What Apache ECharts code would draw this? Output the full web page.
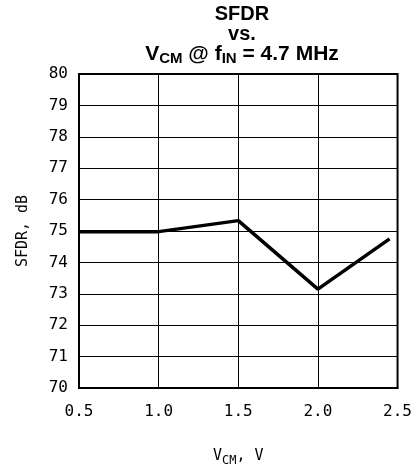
<!DOCTYPE html>
<html>
<head>
<meta charset="utf-8">
<script src="https://cdn.jsdelivr.net/npm/echarts@6/dist/echarts.min.js"></script>
<style>
  html, body { margin: 0; padding: 0; background: #fff; overflow: hidden; }
  #main { width: 415px; height: 472px; }
</style>
</head>
<body>
<div id="main"></div>
<script>
// values
var vcm = [0.5, 1.0, 1.5, 2.0, 2.45];
var sfdr = [74.98, 74.98, 75.33, 73.15, 74.75];

var chart = echarts.init(document.getElementById('main'));

var monoFont = 'DejaVu Sans Mono';

var option = {
  backgroundColor: '#fff',
  animation: false,
  title: {
    text: 'SFDR\nvs.\n{b|V}{s|CM}{b| @ f}{s|IN}{b| = 4.7 MHz}',
    left: 237,
    textAlign: 'center',
    top: -1,
    textStyle: {
      fontFamily: 'Liberation Sans',
      fontWeight: 'bold',
      fontSize: 20,
      lineHeight: 20,
      color: '#000',
      rich: {
        b: { fontFamily: 'Liberation Sans', fontWeight: 'bold', fontSize: 21, color: '#000', lineHeight: 20 },
        s: { fontFamily: 'Liberation Sans', fontWeight: 'bold', fontSize: 15, color: '#000', lineHeight: 20, padding: [9, 0, 0, 0] }
      }
    }
  },
  grid: {
    left: 79,
    right: 13,
    top: 74,
    bottom: 75,
    show: true,
    borderColor: '#000',
    borderWidth: 2,
    containLabel: false
  },
  xAxis: {
    type: 'value',
    min: 0.5,
    max: 2.5,
    interval: 0.5,
    name: '{n|V}{s|CM}{n|, V}',
    nameLocation: 'middle',
    nameGap: 58,
    nameTextStyle: {
      rich: {
        n: { fontFamily: monoFont, fontSize: 15, color: '#000' },
        s: { fontFamily: monoFont, fontSize: 12, color: '#000', padding: [9, 0, 0, 0] }
      }
    },
    axisLine: { show: true, lineStyle: { color: '#000', width: 2 } },
    axisTick: { show: false },
    axisLabel: {
      fontFamily: monoFont,
      fontSize: 16,
      color: '#000',
      margin: 16,
      formatter: function (v) { return v.toFixed(1); }
    },
    splitLine: { show: true, lineStyle: { color: '#000', width: 1 } }
  },
  yAxis: {
    type: 'value',
    min: 70,
    max: 80,
    interval: 1,
    name: 'SFDR, dB',
    nameLocation: 'middle',
    nameGap: 48,
    nameTextStyle: { fontFamily: monoFont, fontSize: 15, color: '#000' },
    axisLine: { show: true, lineStyle: { color: '#000', width: 2 } },
    axisTick: { show: false },
    axisLabel: {
      fontFamily: monoFont,
      fontSize: 16,
      color: '#000',
      margin: 11
    },
    splitLine: { show: true, lineStyle: { color: '#000', width: 1 } }
  },
  series: [
    {
      type: 'line',
      data: vcm.map(function (x, i) { return [x, sfdr[i]]; }),
      showSymbol: false,
      lineStyle: { color: '#000', width: 3.5 }
    }
  ]
};

chart.setOption(option);
</script>
</body>
</html>
